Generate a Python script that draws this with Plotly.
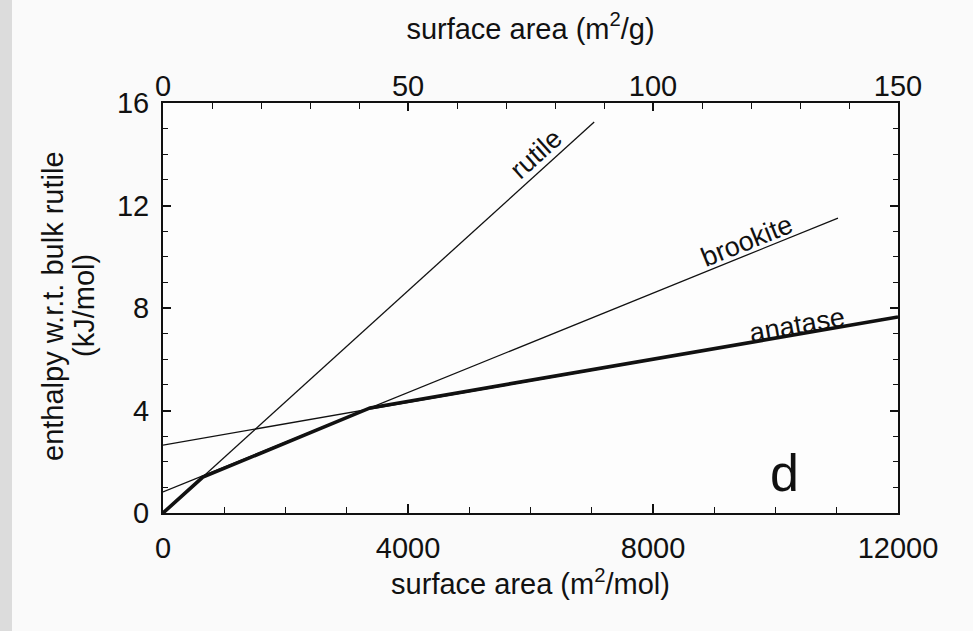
import plotly.graph_objects as go

# ---- data ----
rutile_x = [0, 7040]
rutile_y = [0, 15.26]
brookite_x = [0, 11020]
brookite_y = [0.82, 11.51]
anatase_x = [0, 12000]
anatase_y = [2.65, 7.65]
stable_x = [0, 650, 3380, 12000]
stable_y = [0, 1.40, 4.10, 7.65]

x_ticks = [0, 4000, 8000, 12000]
x_ticktext = ["0", "4000", "8000", "12000"]
x2_ticks = [0, 50, 100, 150]
y_ticks = [0, 4, 8, 12, 16]

FONT = "Liberation Sans, Arial, sans-serif"
INK = "#111111"

L, R, T, B = 163, 75, 103, 118
PW, PH = 973 - L - R, 631 - T - B

def px_to_paper_x(px):
    return (px - L) / PW

fig = go.Figure()
fig.add_trace(go.Scatter(x=rutile_x, y=rutile_y, mode="lines",
                         line=dict(color=INK, width=1.3), showlegend=False))
fig.add_trace(go.Scatter(x=brookite_x, y=brookite_y, mode="lines",
                         line=dict(color=INK, width=1.3), showlegend=False))
fig.add_trace(go.Scatter(x=anatase_x, y=anatase_y, mode="lines",
                         line=dict(color=INK, width=1.3), showlegend=False))
fig.add_trace(go.Scatter(x=stable_x, y=stable_y, mode="lines",
                         line=dict(color=INK, width=3.6), showlegend=False))
# invisible trace for the top axis
fig.add_trace(go.Scatter(x=[0, 150], y=[0, 0], xaxis="x2", mode="lines",
                         line=dict(width=0), hoverinfo="skip", showlegend=False))

fig.update_layout(
    width=973, height=631,
    margin=dict(l=L, r=R, t=T, b=B),
    paper_bgcolor="#fafafa", plot_bgcolor="#fdfdfd",
    font=dict(family=FONT, size=29, color=INK),
    xaxis=dict(range=[0, 12000], tickvals=x_ticks, ticktext=x_ticktext,
               ticks="inside", ticklen=9,
               tickwidth=1.5, tickcolor=INK, showline=True, linecolor=INK,
               linewidth=2, mirror=True, showgrid=False, zeroline=False,
               minor=dict(dtick=1000, ticks="inside", ticklen=6, tickcolor=INK, tickwidth=1.3),
               ticklabelstandoff=8,
               tickfont=dict(size=29),
               title=dict(text="surface area (m<sup>2</sup>/mol)", standoff=6,
                          font=dict(size=29))),
    xaxis2=dict(range=[0, 150], overlaying="x", side="top", tickvals=x2_ticks,
                ticks="inside", ticklen=8, tickwidth=1.5, tickcolor=INK,
                showline=False, showgrid=False, zeroline=False,
                minor=dict(dtick=10, ticks="inside", ticklen=6, tickcolor=INK, tickwidth=1.3),
                tickfont=dict(size=29),
                title=dict(text="surface area (m<sup>2</sup>/g)", standoff=22,
                           font=dict(size=29))),
    yaxis=dict(range=[0, 16], tickvals=y_ticks, ticks="inside", ticklen=8,
               tickwidth=1.5, tickcolor=INK, showline=True, linecolor=INK,
               linewidth=2, mirror="ticks", showgrid=False, zeroline=False,
               minor=dict(dtick=1, ticks="inside", ticklen=5, tickcolor=INK, tickwidth=1.3),
               ticklabelstandoff=6,
               tickfont=dict(size=29)),
    shapes=[dict(type="rect", xref="paper", yref="paper",
                 x0=px_to_paper_x(0), x1=px_to_paper_x(12),
                 y0=-0.3, y1=1.3, fillcolor="#dcdcdc", line=dict(width=0),
                 layer="below")],
    annotations=[
        dict(x=6090, y=14.0, text="rutile", showarrow=False, textangle=-42,
             font=dict(size=27)),
        dict(x=9530, y=10.6, text="brookite", showarrow=False, textangle=-22,
             font=dict(size=27)),
        dict(x=10350, y=7.35, text="anatase", showarrow=False, textangle=-10,
             font=dict(size=27)),
        dict(x=10150, y=1.55, text="d", showarrow=False, font=dict(size=52)),
        dict(xref="paper", yref="paper", x=px_to_paper_x(53), y=0.505,
             xanchor="center", yanchor="middle",
             text="enthalpy w.r.t. bulk rutile", showarrow=False, textangle=-90,
             font=dict(size=29)),
        dict(xref="paper", yref="paper", x=px_to_paper_x(84), y=0.505,
             xanchor="center", yanchor="middle",
             text="(kJ/mol)", showarrow=False, textangle=-90,
             font=dict(size=29)),
    ],
)

fig.write_html("out.html", config={"displayModeBar": False},
               post_script="document.body.style.margin='0';")
